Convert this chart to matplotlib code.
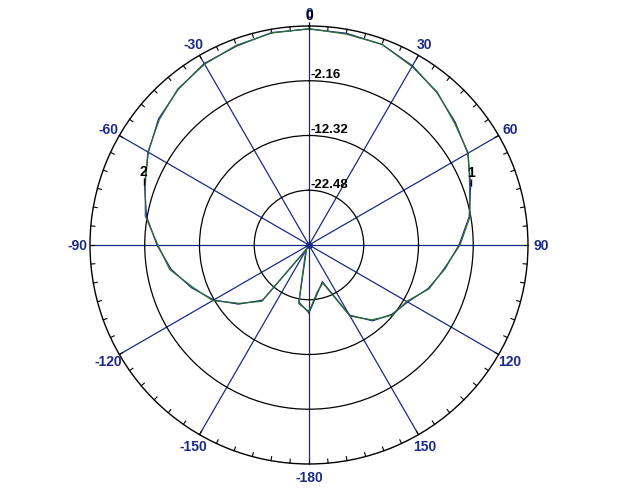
import numpy as np
import matplotlib.pyplot as plt

# Pattern data (dB), one value every 10 degrees from -180 to 170
angles_deg = np.arange(-180, 180, 10)
trace_blue = [-20.02, -21.88, -30.97, -31.71, -19.28, -15.57, -12.23, -9.44, -6.66, -4.43,
              -2.02, -0.16, 1.78, 3.80, 5.09, 6.26, 6.64, 7.39, 7.44, 7.26,
              6.96, 5.77, 4.29, 2.80, 1.39, -0.72, -2.45, -4.80, -7.03, -9.07,
              -11.48, -12.60, -14.27, -17.61, -25.40, -23.55]
trace_green = [-20.3, -21.6, -30.5, -31.9, -19.0, -15.8, -12.0, -9.7, -6.4, -4.6,
               -1.8, -0.3, 1.9, 3.6, 5.2, 6.1, 6.8, 7.3, 7.5, 7.1,
               7.0, 5.6, 4.4, 2.6, 1.5, -0.9, -2.3, -4.6, -7.2, -8.9,
               -11.7, -12.4, -14.5, -17.4, -25.1, -23.8]

r_min, r_max = -32.64, 8.0
ring_values = [-22.48, -12.32, -2.16]
ring_labels = ["-22.48", "-12.32", "-2.16"]
spoke_angles = np.arange(0, 360, 30)
spoke_labels = ["0", "30", "60", "90", "120", "150", "-180", "-150", "-120", "-90", "-60", "-30"]

# markers: (label, angle in degrees, value)
markers = [("0", 0, 7.44), ("1", 70, -0.6), ("2", -70, 0.0)]

navy = "#1b2a86"
green = "#2e6e35"

plt.rcParams['font.family'] = ['Liberation Sans', 'DejaVu Sans']

fig = plt.figure(figsize=(6.32, 4.89), dpi=100)
ax = fig.add_axes([0.1424, 0.0491, 0.693, 0.8957], projection='polar')
ax.set_theta_zero_location('N')
ax.set_theta_direction(-1)
ax.set_ylim(r_min, r_max)

ax.set_xticks(np.deg2rad(spoke_angles))
ax.set_xticklabels([])
ax.set_yticks(ring_values)
ax.set_yticklabels([])
ax.tick_params(axis='x', length=0)
ax.xaxis.grid(True, color=navy, lw=0.9, linestyle='-')
ax.yaxis.grid(True, color='black', lw=0.9, linestyle='-')
ax.spines['polar'].set_color('black')
ax.spines['polar'].set_linewidth(1.0)

# small ticks every 5 degrees on the outer circle
for a in range(0, 360, 5):
    t = np.deg2rad(a)
    ax.plot([t, t], [r_max, r_max - 0.75], color='black', lw=0.8, clip_on=False)

# angle labels
for a, lab in zip(spoke_angles, spoke_labels):
    ax.text(np.deg2rad(a), r_max + 2.4, lab, ha='center', va='center',
            color=navy, fontsize=10, fontweight='bold', clip_on=False)

# ring labels
for v, lab in zip(ring_values, ring_labels):
    ax.annotate(lab, xy=(0, v), xytext=(1, 0.5), textcoords='offset points',
                ha='left', va='bottom', fontsize=9.5, fontweight='bold', color='black')

th = np.deg2rad(np.append(angles_deg, angles_deg[0]))
ax.plot(th, np.append(trace_blue, trace_blue[0]), color=navy, lw=0.9)
ax.plot(th, np.append(trace_green, trace_green[0]), color=green, lw=0.9)

# centre dot
ax.plot(0, r_min, 'o', color=navy, markersize=4)

# markers
for lab, a, v in markers:
    t = np.deg2rad(a)
    ax.plot(t, v, marker=2, color='black', markersize=5, mew=1.0, clip_on=False)
    ax.annotate(lab, xy=(t, v), xytext=(0, 5), textcoords='offset points',
                ha='center', va='bottom', fontsize=10, fontweight='bold', color='black',
                annotation_clip=False)

fig.savefig('out.png', dpi=100)
